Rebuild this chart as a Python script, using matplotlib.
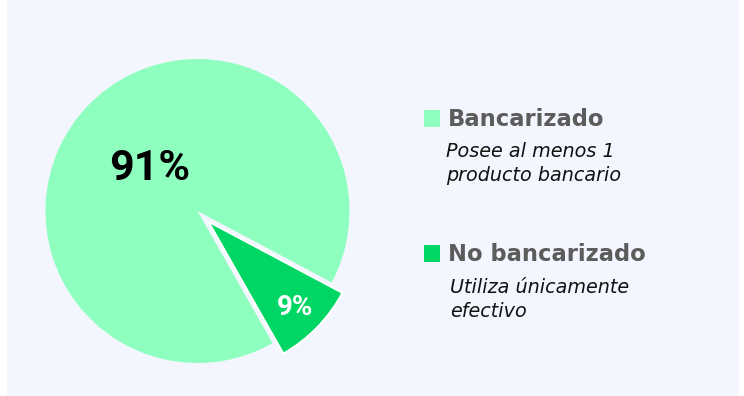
import matplotlib
matplotlib.use("Agg")
import matplotlib.pyplot as plt
from matplotlib.patches import Rectangle

# Share of population by banking status
labels = ["Bancarizado", "No bancarizado"]
values = [91, 9]
descriptions = [
    ["Posee al menos 1", "producto bancario"],
    ["Utiliza únicamente", "efectivo"],
]
colors = ["#8effbf", "#00d664"]

W, H = 744, 396
fig = plt.figure(figsize=(W / 100, H / 100), dpi=100)
fig.patch.set_facecolor("white")

# one axes in pixel units (y up) over the whole figure
ax = fig.add_axes([0, 0, 1, 1])
ax.add_patch(Rectangle((7, 0), 732, H, facecolor="#f3f6fe", edgecolor="none", zorder=0))

cx, cy, r = 197.5, H - 211, 152
# pie explode is in data units here, so pull the small slice out ~15 px
wedges, _ = ax.pie(
    values,
    colors=colors,
    startangle=-28,
    explode=[0, 15],
    center=(cx, cy),
    radius=r,
    frame=True,
)
wedges[1].set_edgecolor("white")
wedges[1].set_linewidth(1.5)
for w in wedges:
    w.set_zorder(2)

ax.set_xlim(0, W)
ax.set_ylim(0, H)
ax.axis("off")

# percentage labels
ax.text(150, H - 168.5, f"{values[0]}%", fontsize=31, fontweight="bold",
        family="Roboto", color="#000000", ha="center", va="center", zorder=3)
ax.text(295.5, H - 307.5, f"{values[1]}%", fontsize=20, fontweight="bold",
        family="Roboto", color="white", ha="center", va="center", zorder=3)

# legend with descriptions
legend_rows = [
    dict(sq_top=110, head_base=125.5, desc_x=446, desc_base=[157, 181]),
    dict(sq_top=245, head_base=261, desc_x=450, desc_base=[293, 317]),
]
for lab, desc, col, row in zip(labels, descriptions, colors, legend_rows):
    ax.add_patch(Rectangle((424, H - row["sq_top"] - 16.5), 16, 16.5,
                           facecolor=col, edgecolor="none", zorder=3))
    ax.text(448, H - row["head_base"], lab, fontsize=16.3, fontweight="bold",
            color="#5c5c5c", ha="left", va="baseline", zorder=3)
    for line, base in zip(desc, row["desc_base"]):
        ax.text(row["desc_x"], H - base, line, fontsize=13.8, style="italic",
                color="#111111", ha="left", va="baseline", zorder=3)

fig.savefig("out.png", dpi=100, facecolor=fig.get_facecolor())
